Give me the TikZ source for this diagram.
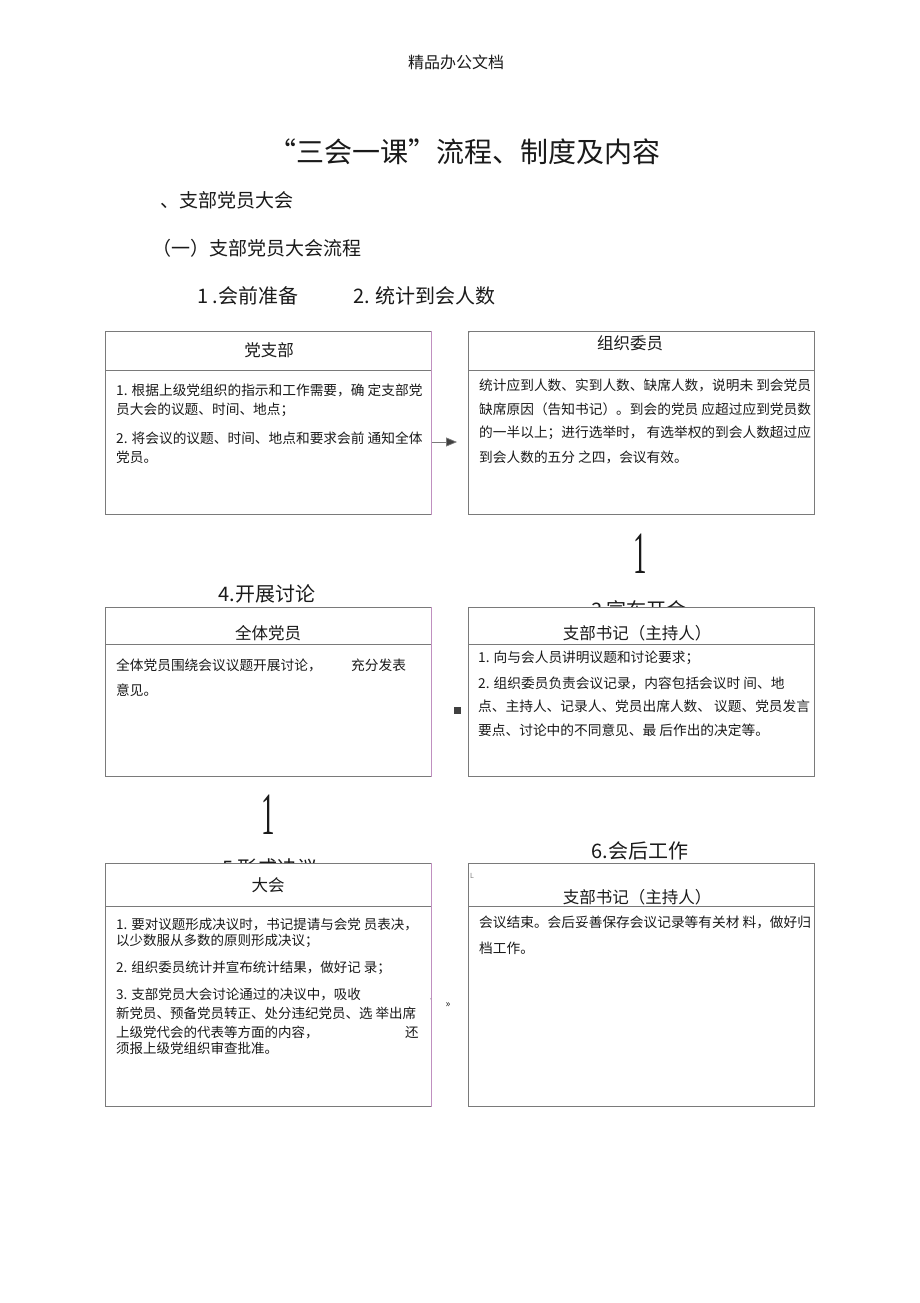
\documentclass[tikz,border=0pt]{standalone}
\usepackage{fontspec}
\setmainfont{Noto Sans CJK SC}
\newfontfamily\serifnum{Liberation Serif}
\usetikzlibrary{arrows.meta}
\definecolor{boxgray}{HTML}{7A7A7A}
\definecolor{edgepink}{HTML}{C090C0}
\definecolor{inkc}{HTML}{1A1A1A}
\begin{document}
\begin{tikzpicture}[x=1pt,y=-1pt,
  frame/.style={draw=boxgray, fill=white, line width=0.7pt, inner sep=0pt, anchor=north west},
  divider/.style={draw=boxgray, line width=0.7pt},
  pinkedge/.style={draw=edgepink, line width=0.7pt},
  body/.style={anchor=west, inner sep=0pt, text=inkc, font=\fontsize{13.7}{13.7}\selectfont},
  bodys/.style={anchor=west, inner sep=0pt, text=inkc, font=\fontsize{13.5}{13.5}\selectfont},
  head/.style={inner sep=0pt, text=inkc, font=\fontsize{16.5}{16.5}\selectfont},
  steplab/.style={inner sep=0pt, text=inkc, font=\fontsize{20}{20}\selectfont},
  glyph/.style={inner sep=0pt, text=inkc, xscale=0.45, font=\serifnum\fontsize{60}{60}\selectfont},
  conn/.style={draw=boxgray, line width=0.7pt, -{Triangle[length=11pt,width=9pt,fill=darkgray]}}
]
\useasboundingbox (0,0) rectangle (920,1303);
\fill[white] (0,0) rectangle (920,1303);

% page header and titles
\node[inner sep=0pt, text=inkc, font=\fontsize{16}{16}\selectfont] (pagehead) at (456,62) {精品办公文档};
\node[inner sep=0pt, text=inkc, font=\fontsize{28}{28}\selectfont] (title) at (464,152) {“三会一课”流程、制度及内容};
\node[anchor=west, inner sep=0pt, text=inkc, font=\fontsize{19}{19}\selectfont] (sec1) at (160,200) {、支部党员大会};
\node[anchor=west, inner sep=0pt, text=inkc, font=\fontsize{19}{19}\selectfont] (sub1) at (152,248) {（一）支部党员大会流程};
\node[steplab, anchor=west] (s1) at (197,296) {1 .会前准备};
\node[steplab, anchor=west] (s2) at (353,296) {2. 统计到会人数};
\node[steplab] (s4) at (267,594) {4.开展讨论};
\node[steplab] (s6) at (640,851) {6.会后工作};
% labels that are partly covered by the boxes
\node[steplab] (s3) at (639,610) {3 宣布开会};
\node[steplab] (s5) at (270,868) {5 形成决议};

% ---------- row 1 ----------
\node[frame, minimum width=326pt, minimum height=183pt] (b1) at (105,331) {};
\node[frame, minimum width=346pt, minimum height=183pt] (b2) at (468,331) {};
\draw[divider] (b1.west |- 0,370) -- (b1.east |- 0,370);
\draw[divider] (b2.west |- 0,370) -- (b2.east |- 0,370);
\draw[pinkedge] (b1.north east) -- (b1.south east);
\node[head] (h1) at (269,350) {党支部};
\node[head] (h2) at (630,343) {组织委员};
\node[inner sep=0pt, text=boxgray, font=\fontsize{5}{5}\selectfont] (m2) at (471,334) {'};

\node[body] (t1a) at (116,390) {1. 根据上级党组织的指示和工作需要，确 定支部党};
\node[body] (t1b) at (116,410) {员大会的议题、时间、地点；};
\node[body] (t1c) at (116,438) {2. 将会议的议题、时间、地点和要求会前 通知全体};
\node[body] (t1d) at (116,457) {党员。};

\node[body] (t2a) at (479,385) {统计应到人数、实到人数、缺席人数，说明未 到会党员};
\node[body] (t2b) at (479,409) {缺席原因（告知书记）。到会的党员 应超过应到党员数};
\node[body] (t2c) at (479,433) {的一半以上；进行选举时， 有选举权的到会人数超过应};
\node[body] (t2d) at (479,457) {到会人数的五分 之四，会议有效。};

\coordinate (a1end) at (457,442);
\draw[conn] (b1.east |- a1end) -- (a1end);

\node[glyph] (g1) at (640,554) {1};

% ---------- row 2 ----------
\node[frame, minimum width=326pt, minimum height=169pt] (b3) at (105,607) {};
\node[frame, minimum width=346pt, minimum height=169pt] (b4) at (468,607) {};
\draw[divider] (b3.west |- 0,644) -- (b3.east |- 0,644);
\draw[divider] (b4.west |- 0,644) -- (b4.east |- 0,644);
\draw[pinkedge] (b3.north east) -- (b3.south east);
\node[head] (h3) at (268,633) {全体党员};
\node[head] (h4) at (637,633) {支部书记（主持人）};

\node[body] (t3a) at (116,665) {全体党员围绕会议议题开展讨论，};
\node[body] (t3b) at (351,665) {充分发表};
\node[body] (t3c) at (116,690) {意见。};

\node[body] (t4a) at (478,658) {1. 向与会人员讲明议题和讨论要求；};
\node[body] (t4b) at (478,683) {2. 组织委员负责会议记录，内容包括会议时 间、地};
\node[body] (t4c) at (478,706) {点、主持人、记录人、党员出席人数、 议题、党员发言};
\node[body] (t4d) at (478,730) {要点、讨论中的不同意见、最 后作出的决定等。};

\node[fill=darkgray, minimum size=7pt, inner sep=0pt] (sq) at (457,710) {};

\node[glyph] (g2) at (268,815) {1};

% ---------- row 3 ----------
\node[frame, minimum width=326pt, minimum height=243pt] (b5) at (105,863) {};
\node[frame, minimum width=346pt, minimum height=243pt] (b6) at (468,863) {};
\draw[divider] (b5.west |- 0,906) -- (b5.east |- 0,906);
\draw[pinkedge] (b5.north east) -- (b5.south east);
\node[head] (h5) at (268,885) {大会};
\node[head] (h6) at (637,897) {支部书记（主持人）};
\draw[divider] (b6.west |- 0,906) -- (b6.east |- 0,906);
\node[inner sep=0pt, text=boxgray, font=\fontsize{7}{7}\selectfont] (m6) at (472,876) {L};

\node[bodys] (t5a) at (116,925) {1. 要对议题形成决议时，书记提请与会党 员表决，};
\node[bodys] (t5b) at (116,941) {以少数服从多数的原则形成决议；};
\node[bodys] (t5c) at (116,968) {2. 组织委员统计并宣布统计结果，做好记 录；};
\node[bodys] (t5d) at (116,995) {3. 支部党员大会讨论通过的决议中，吸收};
\node[bodys] (t5e) at (116,1013) {新党员、预备党员转正、处分违纪党员、选 举出席};
\node[bodys] (t5f) at (116,1032) {上级党代会的代表等方面的内容，};
\node[bodys] (t5g) at (405,1032) {还};
\node[bodys] (t5h) at (116,1048) {须报上级党组织审查批准。};

\node[body] (t6a) at (479,922) {会议结束。会后妥善保存会议记录等有关材 料，做好归};
\node[body] (t6b) at (479,948) {档工作。};

\node[inner sep=0pt, text=inkc, font=\fontsize{10}{10}\selectfont] (mq) at (448,1005) {»};
\node[inner sep=0pt, text=boxgray, font=\fontsize{6}{6}\selectfont] (mc) at (433,1001) {'};
\end{tikzpicture}
\end{document}
